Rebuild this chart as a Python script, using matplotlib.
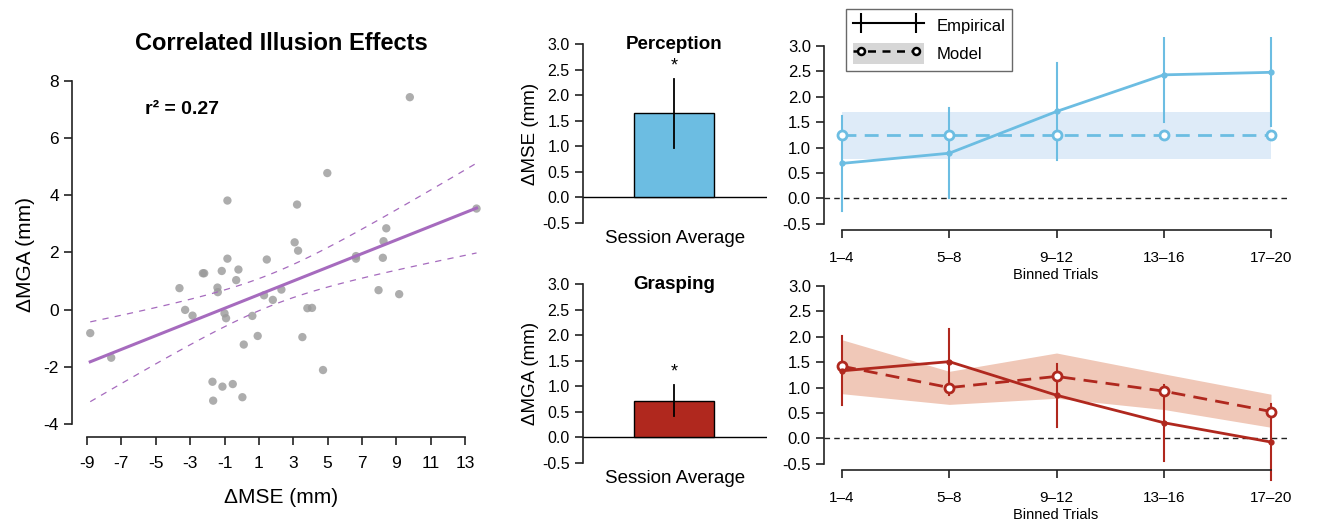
import numpy as np
import matplotlib
matplotlib.use('Agg')
import matplotlib.pyplot as plt
from matplotlib.lines import Line2D
from matplotlib.patches import Patch
from matplotlib.legend_handler import HandlerTuple, HandlerLine2D

plt.rcParams['font.family'] = ['Liberation Sans', 'DejaVu Sans']
plt.rcParams['axes.unicode_minus'] = False

# Scatter data: illusion effect per participant
mse_effect = [-8.81, -7.59, -3.62, -3.29, -2.86, -2.26, -2.18, -1.70, -1.66, -1.41,
              -1.39, -1.16, -1.12, -1.00, -0.91, -0.83, -0.83, -0.52, -0.32, -0.19,
              0.04, 0.12, 0.62, 0.93, 1.30, 1.46, 1.81, 2.31, 3.08, 3.22,
              3.28, 3.53, 3.82, 4.09, 4.73, 4.98, 6.65, 6.65, 7.96, 8.21,
              8.25, 8.41, 9.16, 9.78, 13.66]
mga_effect = [-0.82, -1.68, 0.75, -0.01, -0.21, 1.27, 1.27, -2.52, -3.18, 0.77,
              0.61, 1.35, -2.69, -0.13, -0.30, 3.81, 1.78, -2.60, 1.03, 1.40,
              -3.06, -1.22, -0.22, -0.92, 0.50, 1.75, 0.34, 0.70, 2.35, 3.67,
              2.06, -0.96, 0.05, 0.06, -2.11, 4.77, 1.78, 1.87, 0.68, 1.81,
              2.39, 2.84, 0.54, 7.42, 3.53]

# Session averages
perception_mean = 1.65
perception_err = 0.68
grasping_mean = 0.72
grasping_err = 0.31

# Binned trials
bins = ['1–4', '5–8', '9–12', '13–16', '17–20']
perc_emp = [0.69, 0.89, 1.71, 2.43, 2.48]
perc_emp_err = [0.93, 0.88, 0.95, 0.92, 1.06]
perc_model = [1.25, 1.25, 1.25, 1.25, 1.25]
perc_model_lo = [0.78, 0.78, 0.78, 0.78, 0.78]
perc_model_hi = [1.70, 1.70, 1.70, 1.70, 1.70]

grasp_emp = [1.33, 1.51, 0.85, 0.31, -0.07]
grasp_emp_err = [0.68, 0.65, 0.62, 0.75, 0.74]
grasp_model = [1.42, 1.00, 1.22, 0.93, 0.53]
grasp_model_lo = [0.88, 0.67, 0.79, 0.57, 0.22]
grasp_model_hi = [1.94, 1.32, 1.68, 1.27, 0.87]

blue = '#6cbde2'
blue_band = '#deebf8'
red = '#b0281e'
red_band = '#f0c8b8'
purple = '#a66bbe'

fig = plt.figure(figsize=(13.36, 5.24), dpi=100)


def r_style(ax, xb=None, yb=None):
    ax.patch.set_alpha(0)
    for s in ['top', 'right']:
        ax.spines[s].set_visible(False)
    ax.tick_params(width=1.2, length=6, colors='#222222', labelcolor='black')
    for s in ['left', 'bottom']:
        ax.spines[s].set_linewidth(1.2)
        ax.spines[s].set_color('#222222')
    if xb is not None:
        ax.spines['bottom'].set_bounds(*xb)
    if yb is not None:
        ax.spines['left'].set_bounds(*yb)


# ---- scatter panel ----
ax = fig.add_axes([0.0539, 0.166, 0.3136, 0.6966])
x = np.array(mse_effect)
y = np.array(mga_effect)
ax.scatter(x, y, s=36, color='#999999', alpha=0.8, edgecolors='none', zorder=2)

slope, icpt = np.polyfit(x, y, 1)
n = len(x)
resid = y - (slope * x + icpt)
se = np.sqrt(np.sum(resid ** 2) / (n - 2))
xs = np.linspace(x.min(), x.max(), 100)
ys = slope * xs + icpt
half = 2.017 * se * np.sqrt(1 / n + (xs - x.mean()) ** 2 / np.sum((x - x.mean()) ** 2))
ax.plot(xs, ys, color=purple, lw=2.2, zorder=3)
ax.plot(xs, ys + half, color=purple, lw=0.9, ls=(0, (5, 5)), zorder=3)
ax.plot(xs, ys - half, color=purple, lw=0.9, ls=(0, (5, 5)), zorder=3)

ax.set_xlim(-9.87, 14.5)
ax.set_ylim(-4.45, 8.3)
ax.set_xticks(np.arange(-9, 14, 2))
ax.set_yticks(np.arange(-4, 9, 2))
ax.tick_params(labelsize=12.5)
r_style(ax, xb=(-9, 13), yb=(-4, 8))
ax.tick_params(axis='x', pad=8)
ax.set_xlabel('ΔMSE (mm)', fontsize=15, labelpad=12)
ax.set_ylabel('ΔMGA (mm)', fontsize=15, labelpad=6)
ax.set_title('Correlated Illusion Effects', fontsize=17, fontweight='bold', pad=16)
ax.text(-5.63, 6.99, 'r² = 0.27', fontsize=14, fontweight='bold', va='center')


# ---- session average bars ----
def bar_panel(rect, mean, err, color, title, ylabel):
    bx = fig.add_axes(rect)
    bx.bar([0], [mean], width=0.435, color=color, edgecolor='black', linewidth=1.0, zorder=2)
    bx.plot([0, 0], [mean - err, mean + err], color='black', lw=1.3, zorder=3)
    bx.text(0, mean + err + 0.08, '*', ha='center', va='bottom', fontsize=13)
    bx.axhline(0, color='black', lw=1.0, zorder=1)
    bx.set_xlim(-0.495, 0.505)
    bx.set_ylim(-0.64, 3.14)
    bx.set_yticks(np.arange(-0.5, 3.01, 0.5))
    bx.set_yticklabels(['%.1f' % v for v in np.arange(-0.5, 3.01, 0.5)])
    bx.tick_params(labelsize=11.5)
    r_style(bx, yb=(-0.5, 3.0))
    bx.spines['bottom'].set_visible(False)
    bx.set_xticks([])
    bx.set_xlabel('Session Average', fontsize=13.5, labelpad=0)
    bx.set_ylabel(ylabel, fontsize=13.5, labelpad=2)
    bx.text(0, 3.0, title, fontsize=13.5, fontweight='bold', ha='center', va='center')
    return bx


bar_panel([0.4364, 0.561, 0.1377, 0.368], perception_mean, perception_err, blue,
          'Perception', 'ΔMSE (mm)')
bar_panel([0.4364, 0.103, 0.1377, 0.368], grasping_mean, grasping_err, red,
          'Grasping', 'ΔMGA (mm)')


# ---- binned trials ----
def trial_panel(rect, emp, emp_err, mod, lo, hi, color, band, clip):
    tx = fig.add_axes(rect)
    pos = np.arange(len(bins))
    tx.fill_between(pos, lo, hi, color=band, lw=0, zorder=1)
    tx.axhline(0, color='#222222', lw=1.0, ls=(0, (4, 3)), zorder=1)
    emp = np.array(emp)
    emp_err = np.array(emp_err)
    for p, m, e in zip(pos, emp, emp_err):
        tx.plot([p, p], [m - e, m + e], color=color, lw=1.5, zorder=2, clip_on=clip)
    tx.plot(pos, mod, color=color, lw=2.0, ls=(0, (5, 3)), marker='o', ms=6.5,
            mfc='white', mec=color, mew=2.0, zorder=3)
    tx.plot(pos, emp, color=color, lw=2.0, marker='o', ms=3.5, zorder=4)
    tx.set_xlim(-0.168, 4.15)
    tx.set_ylim(-0.62, 3.17)
    tx.set_yticks(np.arange(-0.5, 3.01, 0.5))
    tx.set_yticklabels(['%.1f' % v for v in np.arange(-0.5, 3.01, 0.5)])
    tx.set_xticks(pos)
    tx.set_xticklabels(bins)
    tx.tick_params(axis='y', labelsize=12)
    tx.tick_params(axis='x', labelsize=11, pad=9)
    r_style(tx, xb=(0, 4), yb=(-0.5, 3.0))
    tx.set_xlabel('Binned Trials', fontsize=10.5, labelpad=2)
    return tx


top = trial_panel([0.6168, 0.561, 0.3466, 0.368], perc_emp, perc_emp_err, perc_model,
                  perc_model_lo, perc_model_hi, blue, blue_band, True)
trial_panel([0.6168, 0.103, 0.3466, 0.368], grasp_emp, grasp_emp_err, grasp_model,
            grasp_model_lo, grasp_model_hi, red, red_band, False)

# legend: lines run the full handle width, markers sit slightly inside
emp_line = Line2D([], [], color='black', lw=1.5)
emp_marks = Line2D([], [], ls='none', color='black', marker='|', ms=14, mew=1.5)
mod_line = Line2D([], [], color='black', lw=1.8, ls=(0, (3.2, 2.6)))
mod_marks = Line2D([], [], ls='none', marker='o', ms=5, mfc='white', mec='black', mew=1.8)
mod_patch = Patch(facecolor='#d6d6d6', edgecolor='none')
line_handler = HandlerLine2D(marker_pad=0)
mark_handler = HandlerLine2D(marker_pad=0.48)
leg = fig.legend([(emp_line, emp_marks), (mod_patch, mod_line, mod_marks)],
                 ['Empirical', 'Model'],
                 handler_map={tuple: HandlerTuple(ndivide=1, pad=0),
                              emp_line: line_handler, mod_line: line_handler,
                              emp_marks: mark_handler, mod_marks: mark_handler},
                 loc='upper left', bbox_to_anchor=(846 / 1336, 1 - 9 / 524),
                 borderaxespad=0, numpoints=2, handlelength=4.3, handleheight=1.5,
                 fontsize=12, frameon=True, fancybox=False, edgecolor='#444444',
                 borderpad=0.4, labelspacing=0.45, handletextpad=0.75)
leg.get_frame().set_linewidth(1.0)

fig.savefig('out.png', dpi=100)
